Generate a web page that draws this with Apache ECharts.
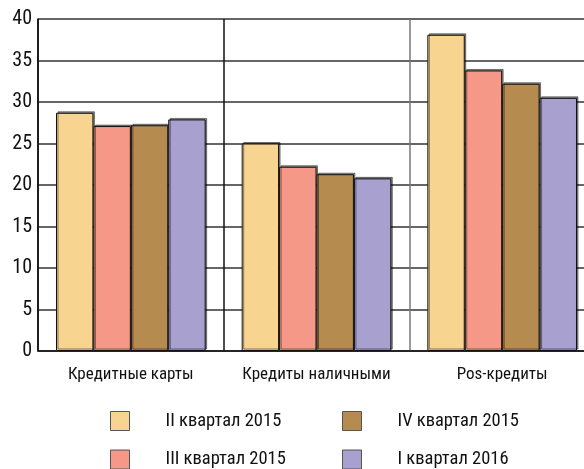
<!DOCTYPE html>
<html><head><meta charset="utf-8">
<script src="https://cdn.jsdelivr.net/npm/echarts@6/dist/echarts.min.js"></script>
<style>html,body{margin:0;padding:0;background:#fff;overflow:hidden}#c{width:600px;height:469px}</style>
</head><body><div id="c"></div>
<script>
var categories = ['Кредитные карты', 'Кредиты наличными', 'Pos-кредиты'];
var seriesNames = ['II квартал 2015', 'III квартал 2015', 'IV квартал 2015', 'I квартал 2016'];
var q2_2015 = [28.7, 25.0, 38.1];
var q3_2015 = [27.1, 22.2, 33.8];
var q4_2015 = [27.2, 21.3, 32.2];
var q1_2016 = [27.9, 20.8, 30.5];
var yTicks = [0, 5, 10, 15, 20, 25, 30, 35, 40];
var colors = ['#F7D490', '#F69888', '#B58B50', '#A8A0CF'];
var FONT = '"Roboto Condensed", "Liberation Sans", sans-serif';

var values = [q2_2015, q3_2015, q4_2015, q1_2016];
var chart = echarts.init(document.getElementById('c'));
var series = values.map(function (v, i) {
  return {
    name: seriesNames[i], type: 'bar', data: v,
    barGap: '0%', barCategoryGap: '19.4%',
    itemStyle: { color: colors[i], borderColor: '#111', borderWidth: 1,
      shadowColor: 'rgba(0,0,0,0.45)', shadowOffsetX: 1.5, shadowOffsetY: -1.5, shadowBlur: 0 }
  };
});
function legendAt(left, names) {
  return {
    orient: 'vertical', left: left, top: 406, height: 80, data: names,
    itemWidth: 19, itemHeight: 19, itemGap: 18.5, icon: 'rect',
    textStyle: { fontFamily: FONT, fontSize: 18.5, color: '#111', padding: [0, 0, 0, 31] },
    itemStyle: { borderColor: '#555', borderWidth: 1 }
  };
}
chart.setOption({
  animation: false,
  grid: { left: 38, top: 19, bottom: 118, right: 5, containLabel: false },
  legend: [legendAt(105, [seriesNames[0], seriesNames[1]]), legendAt(337, [seriesNames[2], seriesNames[3]])],
  xAxis: {
    type: 'category', data: categories,
    axisLine: { lineStyle: { color: '#111', width: 1.5 } },
    axisTick: { show: false },
    axisLabel: { interval: 0, fontFamily: FONT, fontSize: 17, color: '#111', margin: 15 },
    splitLine: { show: true, lineStyle: { color: ['#111', '#111', '#777'], width: 1.5 } }
  },
  yAxis: {
    type: 'value', min: yTicks[0], max: yTicks[yTicks.length - 1], interval: 5,
    axisLine: { show: true, lineStyle: { color: '#111', width: 1.5 } },
    axisTick: { show: false },
    axisLabel: { fontFamily: FONT, fontSize: 20, color: '#111', margin: 6 },
    splitLine: { show: true, lineStyle: { color: '#333', width: 1.5 } }
  },
  series: series
});
</script></body></html>
